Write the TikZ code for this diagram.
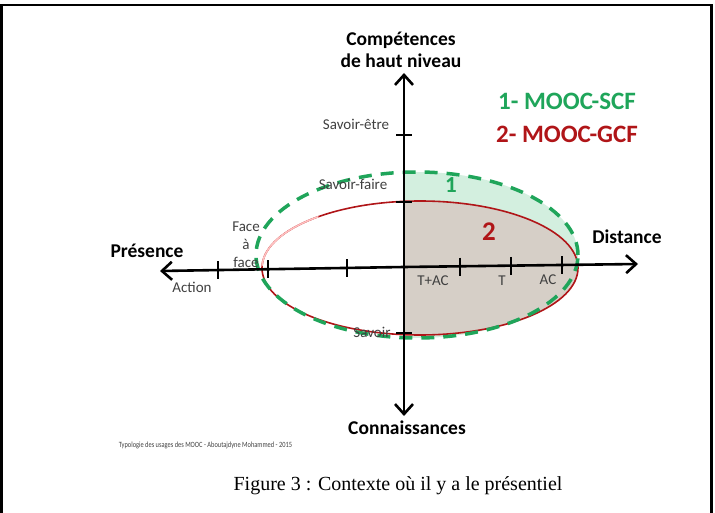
\documentclass[tikz,border=0pt]{standalone}
\usepackage{fontspec}
\setmainfont{Carlito}
\newfontfamily\capfont{Liberation Serif}
\usetikzlibrary{arrows.meta}
\definecolor{mgreen}{HTML}{1FA55A}
\definecolor{mred}{HTML}{B01518}
\definecolor{gfill}{HTML}{D3EFDF}
\definecolor{bfill}{HTML}{D6CFC7}
\definecolor{lbl}{HTML}{404040}
\tikzset{
  axis/.style={line width=2.6pt, -{Straight Barb[length=10pt,width=18pt,line width=2.6pt]}},
  tick/.style={line width=2.4pt},
  big/.style={font=\fontsize{19.5}{22}\selectfont\bfseries, text=black},
  small/.style={font=\fontsize{15}{17}\selectfont, text=lbl},
  legend/.style={font=\fontsize{25}{27}\selectfont\bfseries},
}
\begin{document}
\begin{tikzpicture}[x=1pt,y=-1pt]
\useasboundingbox (0,0) rectangle (715,513);
% frame
\draw[line width=2.5pt] (1.5,520) -- (1.5,5) -- (711.5,5) -- (711.5,520);
% fills
\begin{scope}
\clip (404,0) rectangle (715,513);
\fill[gfill] (417,255) ellipse [x radius=161pt, y radius=83pt];
\fill[bfill] (420,268) ellipse [x radius=158pt, y radius=67pt];
\end{scope}
% ellipses
\draw[mred, line width=1.6pt] (420,268) ellipse [x radius=158pt, y radius=67pt];
\draw[red!25, line width=1.6pt] (420,268) ++(130:158pt and 67pt) arc [start angle=130, end angle=178, x radius=158pt, y radius=67pt];
\draw[mgreen, line width=3.5pt, dash pattern=on 13pt off 9pt] (417,255) ellipse [x radius=161pt, y radius=83pt];
% axes
\coordinate (hl) at (160,271);
\coordinate (hr) at (638,264);
\coordinate (vt) at (404,73);
\coordinate (vb) at (404,416);
\coordinate (hstart) at (404,267);
\draw[axis] (hstart) -- (hr);
\draw[axis] (hstart) -- (hl);
\draw[axis] (hstart) -- (vt);
\draw[axis] (hstart) -- (vb);
% ticks horizontal
\foreach \x/\y in {218/270.2, 268/269.4, 347/268.3, 460/266.6, 511/265.9, 562/265.1}
  \draw[tick] (\x,\y-9) -- (\x,\y+9);
% ticks vertical
\foreach \y in {135, 202, 333}
  \draw[tick] (396,\y) -- (412,\y);
% labels
\node[big, align=center] (comp) at (401,50) {Compétences\\de haut niveau};
\node[big] (pres) at (147,251) {Présence};
\node[big] (dist) at (627,237) {Distance};
\node[big] (conn) at (407,428) {Connaissances};
\node[legend, text=mgreen] (l1) at (567,101) {1- MOOC-SCF};
\node[legend, text=mred] (l2) at (567,134) {2- MOOC-GCF};
\node[font=\fontsize{23}{25}\selectfont\bfseries, text=mgreen] (n1) at (451,185) {1};
\node[font=\fontsize{27}{29}\selectfont\bfseries, text=mred] (n2) at (489,232) {2};
\node[small] (se) at (356,124) {Savoir-être};
\node[small] (sf) at (353,184) {Savoir-faire};
\node[small] (sv) at (372,332) {Savoir};
\node[small, align=center, font=\fontsize{15}{18}\selectfont] (ff) at (246,245) {Face\\à\\face};
\node[small] (act) at (192,287) {Action};
\node[small] (tac) at (433,281) {T+AC};
\node[small] (t) at (502,281) {T};
\node[small] (ac) at (548,280) {AC};
\node[font=\fontsize{8}{9}\selectfont, text=lbl, anchor=west, xscale=0.8] (cr) at (116,445) {Typologie des usages  des MOOC - Aboutajdyne Mohammed - 2015};
\node[font=\capfont\fontsize{20}{22}\selectfont] (cap) at (398,486) {Figure 3 : Contexte où il y a le présentiel};
\end{tikzpicture}
\end{document}
